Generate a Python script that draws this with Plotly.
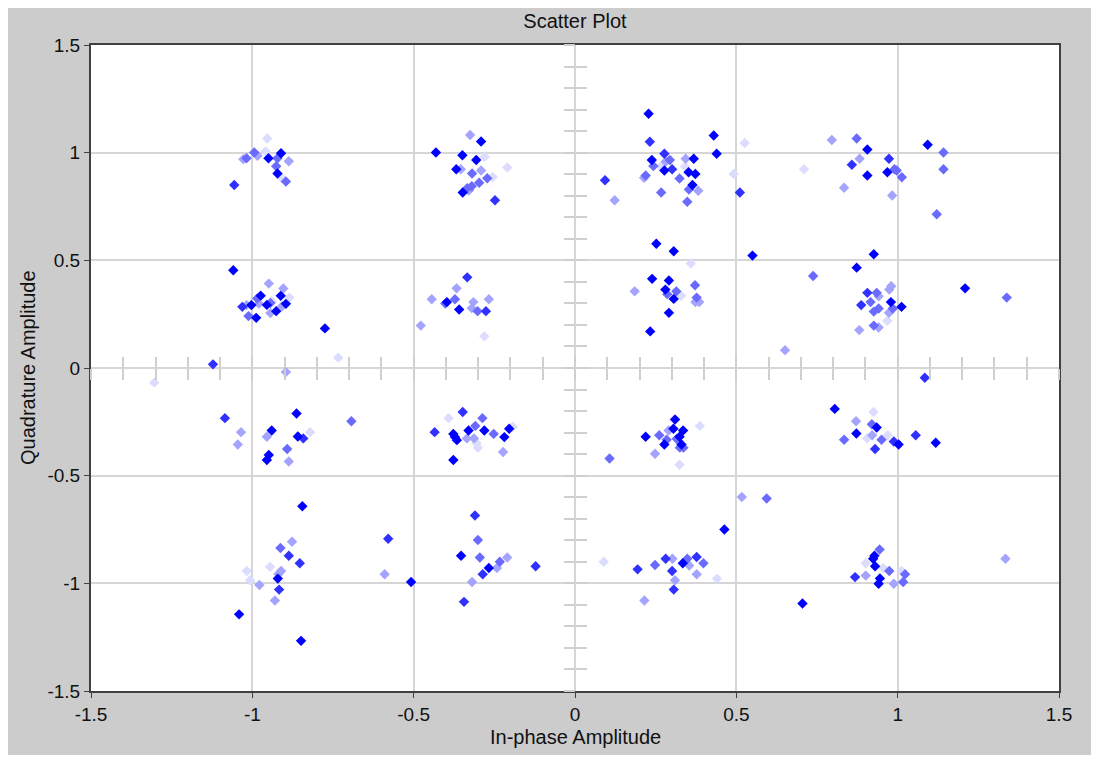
import plotly.graph_objects as go

# ---- data: constellation points grouped by persistence intensity ----
x_dark = [-1.059, -0.911, -0.950, -0.922, -0.431, -0.349, -0.306, -0.368, -0.348, -0.291,
          0.228, 0.430, 0.439, 0.238, 0.368, 0.277, 0.352, 0.373, 0.364, 0.252, 0.306, 0.550,
          0.906, 1.093, 0.968, 0.906, 0.926, 0.873,
          -0.974, -0.912, -0.955, -0.896, -1.003, -0.926, -0.988, -0.775,
          -0.397, -0.359, 0.239, 0.291, 0.280, 0.306, 0.291, 0.233, 0.979, 1.012, 1.209,
          -0.863, -0.940, -0.859, -0.949, -0.955, -0.330, -0.281, -0.204, -0.377, -0.372, -0.366,
          -0.219, -0.377, -0.845,
          0.310, 0.219, 0.305, 0.335, 0.324, 0.277, 0.330, 0.805, 0.935, 0.872, 1.003, 1.118,
          -0.353, -0.267, -0.508, -0.921, -1.041, -0.849,
          0.463, 0.334, 0.705, 0.928, 0.924, 0.930, 0.945, 0.941]
y_dark = [0.454, 0.997, 0.974, 0.903, 1.001, 0.988, 0.966, 0.923, 0.815, 1.052,
          1.181, 1.080, 0.995, 0.966, 0.972, 0.917, 0.909, 0.901, 0.850, 0.577, 0.542, 0.522,
          1.015, 1.037, 0.909, 0.894, 0.528, 0.466,
          0.336, 0.335, 0.293, 0.298, 0.292, 0.264, 0.233, 0.184,
          0.306, 0.272, 0.414, 0.406, 0.364, 0.321, 0.256, 0.170, 0.306, 0.284, 0.370,
          -0.211, -0.290, -0.318, -0.404, -0.427, -0.290, -0.290, -0.282, -0.306, -0.321, -0.335,
          -0.321, -0.427, -0.642,
          -0.239, -0.319, -0.282, -0.290, -0.319, -0.355, -0.355, -0.190, -0.276, -0.304, -0.355, -0.347,
          -0.872, -0.929, -0.994, -0.978, -1.144, -1.267,
          -0.750, -0.907, -1.094, -0.872, -0.886, -0.921, -0.977, -1.002]

x_mid_dark = [-1.056, -0.248, 0.232, 0.277, 0.301, 0.093, 0.511, 0.973, 0.858,
              -1.031, -1.122, -0.334, -0.276, 0.887, 0.906, 1.084,
              -1.085, -0.842, -0.435, -0.348, 0.930, 0.988, 1.056,
              -0.310, -0.579, -0.887, -0.853, -0.286, -0.122, -0.917, -0.344,
              0.194, 0.281, 0.301, 0.306, 0.377, 0.868]
y_mid_dark = [0.850, 0.779, 1.051, 0.995, 0.923, 0.872, 0.815, 0.972, 0.944,
              0.284, 0.017, 0.421, 0.264, 0.292, 0.349, -0.045,
              -0.233, -0.327, -0.298, -0.204, -0.376, -0.341, -0.312,
              -0.685, -0.793, -0.872, -0.907, -0.958, -0.921, -1.029, -1.086,
              -0.935, -0.886, -0.943, -1.029, -0.878, -0.971]

x_mid = [-0.994, -0.922, -1.018, -0.926, -0.896, -0.319, -0.272, -0.297, -0.320, -0.334,
         0.294, 0.243, 0.219, 0.324, 0.353, 0.267, 0.348, 0.873, 1.142, 0.990, 0.997, 1.142,
         1.013, 1.121, -0.985, -0.944, -1.012, -0.372, -0.402, -0.302, 0.314, 0.286, 0.372,
         0.377, 0.738, 0.935, 0.916, 0.985, 0.941, 0.926, 0.926, 1.338,
         -0.693, -0.892, -0.287, -0.309, -0.252, 0.261, 0.315, 0.284, 0.325, 0.336, 0.107,
         0.920, 0.950, 0.834, 0.594, -0.913, -0.301, -0.295, -0.233,
         0.248, 0.348, 0.398, 0.974, 1.017, 1.023, 0.944]
y_mid = [1.001, 0.974, 0.974, 0.937, 0.866, 0.903, 0.881, 0.860, 0.844, 0.835,
         0.966, 0.938, 0.894, 0.880, 0.829, 0.815, 0.772, 1.066, 1.001, 0.923, 0.917, 0.923,
         0.886, 0.714, 0.323, 0.302, 0.241, 0.319, 0.299, 0.264, 0.356, 0.343, 0.384,
         0.327, 0.427, 0.349, 0.306, 0.276, 0.276, 0.262, 0.197, 0.327,
         -0.247, -0.376, -0.233, -0.269, -0.306, -0.312, -0.329, -0.333, -0.370, -0.370, -0.420,
         -0.261, -0.333, -0.333, -0.606, -0.836, -0.799, -0.880, -0.900,
         -0.915, -0.886, -0.907, -0.943, -0.994, -0.958, -0.843]

x_light = [-0.984, -0.887, -1.028, -0.325, -0.354, -0.291, -0.329, 0.281, 0.343, 0.214,
           0.382, 0.123, 0.796, 0.882, 0.834, 0.983, -0.949, -0.904, -1.018, -0.908, -0.980,
           -0.944, -0.896, -0.367, -0.444, -0.315, -0.267, -0.320, -0.478, 0.185, 0.373,
           0.385, 0.651, 0.980, 0.974, 0.941, 0.973, 0.941, 0.881,
           -1.035, -1.045, -0.955, -0.887, -0.335, -0.313, -0.223, 0.290, 0.248, 0.871, 0.921,
           0.517, -0.877, -0.210, -0.242, -0.590, -0.319, -0.911, -0.919, -0.978, -0.930,
           0.302, 0.310, 0.354, 0.377, 0.215, 0.901, 0.988, 1.334]
y_light = [0.986, 0.960, 0.970, 1.082, 0.923, 0.917, 0.824, 0.958, 0.972, 0.883,
           0.823, 0.779, 1.059, 0.972, 0.837, 0.801, 0.392, 0.369, 0.292, 0.287, 0.299,
           0.255, -0.019, 0.370, 0.319, 0.306, 0.319, 0.278, 0.197, 0.356, 0.306,
           0.306, 0.083, 0.380, 0.364, 0.333, 0.256, 0.188, 0.176,
           -0.298, -0.355, -0.319, -0.434, -0.327, -0.327, -0.390, -0.290, -0.398, -0.247, -0.312,
           -0.599, -0.807, -0.880, -0.929, -0.958, -0.994, -0.943, -0.957, -1.008, -1.080,
           -0.886, -0.986, -0.917, -0.958, -1.080, -0.964, -1.002, -0.886]

x_faint = [-0.954, -0.959, -0.909, -0.280, -0.210, -0.255, 0.526, 0.266, 0.341, 0.492,
           0.710, 0.359, -0.885, -0.940, -0.734, -1.304, -0.281, 0.329, 0.968,
           -0.821, -0.392, -0.193, -0.305, -0.301, 0.387, 0.324, 0.925, 0.905, 0.969,
           -1.017, -0.945, -1.007, 0.089, 0.440, 0.955, 1.012, 0.901]
y_faint = [1.066, 1.006, 0.883, 0.981, 0.931, 0.887, 1.045, 0.935, 0.935, 0.901,
           0.923, 0.485, 0.327, 0.310, 0.048, -0.068, 0.147, 0.335, 0.219,
           -0.298, -0.233, -0.273, -0.349, -0.370, -0.269, -0.449, -0.204, -0.327, -0.312,
           -0.943, -0.923, -0.986, -0.900, -0.978, -0.929, -0.943, -0.907]

series = [
    (x_faint, y_faint, "#dcdcff"),
    (x_light, y_light, "#a4a4ff"),
    (x_mid, y_mid, "#6a6aff"),
    (x_mid_dark, y_mid_dark, "#3030ff"),
    (x_dark, y_dark, "#0000ff"),
]

axis_range = [-1.5, 1.5]
major_ticks = [-1.5, -1, -0.5, 0, 0.5, 1, 1.5]
major_labels = ["-1.5", "-1", "-0.5", "0", "0.5", "1", "1.5"]

fig = go.Figure()
for xs, ys, col in series:
    fig.add_trace(go.Scatter(
        x=xs, y=ys, mode="markers",
        marker=dict(symbol="diamond", size=8, color=col, line=dict(width=0)),
        showlegend=False, hoverinfo="x+y"))

# invisible traces that bind the central cross axes (minor ticks)
fig.add_trace(go.Scatter(x=[], y=[], xaxis="x2", yaxis="y", showlegend=False))
fig.add_trace(go.Scatter(x=[], y=[], xaxis="x3", yaxis="y", showlegend=False))
fig.add_trace(go.Scatter(x=[], y=[], xaxis="x", yaxis="y2", showlegend=False))
fig.add_trace(go.Scatter(x=[], y=[], xaxis="x", yaxis="y3", showlegend=False))

font_main = "Liberation Sans, Arial, sans-serif"
text_col = "#111111"
fsize = 20
grid_col = "#d6d6d6"
border_col = "#404040"

W, H = 1083, 747
L, R, T, B = 83, 32, 37, 64
PW, PH = W - L - R, H - T - B

main_axis = dict(
    range=axis_range, tickmode="array", tickvals=major_ticks, ticktext=major_labels,
    showgrid=True, gridcolor=grid_col, gridwidth=2,
    zeroline=True, zerolinecolor=grid_col, zerolinewidth=2,
    showline=True, linecolor=border_col, linewidth=2, mirror=True,
    ticks="outside", ticklen=5, tickcolor=border_col, tickwidth=1,
    tickfont=dict(family=font_main, size=fsize - 1, color=text_col),
    fixedrange=True,
)

minor_common = dict(
    range=axis_range, tickmode="linear", tick0=0, dtick=0.1,
    showgrid=False, zeroline=False, showline=False, showticklabels=False,
    ticklen=11, tickwidth=2, tickcolor="#cfcfcf", anchor="free", position=0.5,
    fixedrange=True,
)

fig.update_layout(
    width=W, height=H,
    margin=dict(l=L, r=R, t=T, b=B),
    paper_bgcolor="#cccccc", plot_bgcolor="#ffffff",
    xaxis=main_axis,
    yaxis=main_axis,
    xaxis2=dict(minor_common, overlaying="x", ticks="outside"),
    xaxis3=dict(minor_common, overlaying="x", ticks="inside"),
    yaxis2=dict(minor_common, overlaying="y", ticks="outside"),
    yaxis3=dict(minor_common, overlaying="y", ticks="inside"),
    title=dict(text="Scatter Plot", x=0.5, xref="paper", y=1 - 13 / H, yanchor="middle",
               font=dict(family=font_main, size=fsize, color=text_col)),
    annotations=[
        dict(text="In-phase Amplitude", xref="paper", yref="paper", x=0.5, y=-46 / PH,
             showarrow=False, yanchor="middle", font=dict(family=font_main, size=fsize, color=text_col)),
        dict(text="Quadrature Amplitude", xref="paper", yref="paper", x=-63 / PW, y=0.5,
             showarrow=False, textangle=-90, xanchor="center", yanchor="middle",
             font=dict(family=font_main, size=fsize, color=text_col)),
    ],
)

fig.write_html("out.html")
